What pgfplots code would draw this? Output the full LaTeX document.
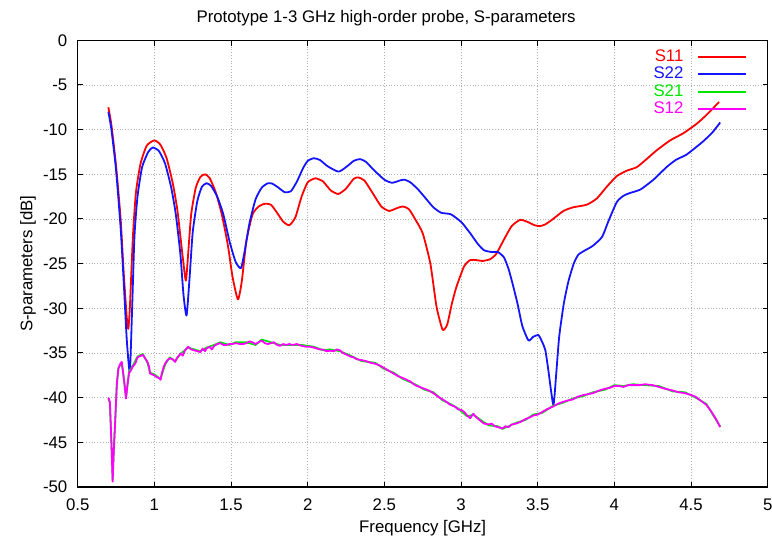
\documentclass[border=0pt]{standalone}
\usepackage{fontspec}
\setmainfont{Liberation Sans}
\usepackage{pgfplots}
\pgfplotsset{compat=1.18}
\definecolor{gpblue}{RGB}{20,20,255}
\definecolor{gpred}{RGB}{255,0,0}
\definecolor{gpgreen}{RGB}{0,230,0}
\definecolor{gpmag}{RGB}{255,0,255}
\newcommand{\fs}{\fontsize{8.4}{10}\selectfont}
\begin{document}
\begin{tikzpicture}
\fs
\begin{axis}[
  name=ax,
  scale only axis,
  width=345pt, height=223.35pt,
  xmin=0.5, xmax=5, ymin=-50, ymax=0,
  xtick={0.5,1,...,5}, ytick={-50,-45,...,0},
  /pgf/number format/assume math mode=true,
  tick label style={font=\fs},
  xticklabel style={yshift=-2.8pt},
  yticklabel style={xshift=-2.2pt},
  major tick length=2.6pt,
  tick style={black, line width=0.5pt},
  axis line style={line width=0.6pt},
  grid=major,
  major grid style={densely dotted, gray!60, line width=0.4pt},
  title={Prototype 1-3 GHz high-order probe, S-parameters},
  title style={at={(rel axis cs:0.447,1)}, anchor=center, yshift=5pt, font=\fs},
  xlabel={Frequency [GHz]},
  xlabel style={at={(rel axis cs:0.5,0)}, anchor=center, yshift=-20.5pt, font=\fs},
  ylabel={S-parameters [dB]},
  ylabel style={at={(axis description cs:-0.072,0.5)}, anchor=center, font=\fs},
  legend plot pos=right,
  legend cell align=right,
  legend image code/.code={\path (0pt,0pt); \draw[#1, line width=1pt] (5pt,0pt) -- (29pt,0pt);},
  legend style={draw=none, fill=none, at={(rel axis cs:1,1)}, anchor=north east, xshift=-9pt, yshift=-1.4pt,
     font=\fs, row sep=-2.4pt, inner sep=1pt},
  every axis plot/.append style={line width=0.9pt, line join=round},
]
\addplot[gpred, no marks, smooth, tension=0.35] coordinates {
(0.70,-7.5) (0.72,-9.5) (0.75,-14) (0.78,-20) (0.80,-26) (0.82,-31) (0.83,-32.3) (0.84,-30)
(0.86,-22) (0.88,-17) (0.91,-13.8) (0.95,-11.8) (1.00,-11.2) (1.04,-11.7) (1.08,-13.2)
(1.12,-16) (1.15,-19) (1.18,-23.5) (1.205,-26.9) (1.22,-24) (1.24,-19.5) (1.27,-16.5)
(1.30,-15.3) (1.33,-15.0) (1.36,-15.4) (1.40,-17) (1.44,-19.5) (1.48,-23) (1.51,-26.5)
(1.545,-29.0) (1.57,-27) (1.60,-22.5) (1.64,-19.5) (1.68,-18.6) (1.72,-18.3) (1.76,-18.4)
(1.80,-19.3) (1.84,-20.3) (1.88,-20.7) (1.92,-19.8) (1.96,-17.5) (2.00,-15.9) (2.05,-15.45)
(2.10,-15.8) (2.15,-16.8) (2.20,-17.2) (2.25,-16.6) (2.30,-15.5) (2.33,-15.35) (2.37,-15.7)
(2.42,-17) (2.48,-18.6) (2.53,-19.1) (2.58,-18.8) (2.62,-18.6) (2.66,-18.9) (2.70,-20)
(2.75,-21.6) (2.80,-25) (2.84,-29.8) (2.88,-32.4) (2.91,-31.8) (2.94,-29.5) (2.97,-27.6)
(3.02,-25.3) (3.06,-24.6) (3.10,-24.6) (3.14,-24.7) (3.19,-24.5) (3.23,-23.9) (3.28,-22.3)
(3.33,-20.8) (3.385,-20.1) (3.43,-20.3) (3.48,-20.7) (3.515,-20.8) (3.55,-20.6) (3.60,-20.0)
(3.668,-19.1) (3.73,-18.7) (3.82,-18.4) (3.886,-17.7) (3.95,-16.4) (4.016,-15.2) (4.08,-14.6)
(4.146,-14.2) (4.21,-13.3) (4.277,-12.3) (4.364,-11.2) (4.45,-10.4) (4.54,-9.3) (4.61,-8.2)
(4.683,-6.9)
};
\addlegendentry{\textcolor{gpred}{S11}}
\addplot[gpblue, no marks, smooth, tension=0.35] coordinates {
(0.70,-8.0) (0.72,-10) (0.75,-14.5) (0.78,-21) (0.80,-27) (0.82,-33.5) (0.84,-37.1)
(0.855,-30) (0.87,-22) (0.89,-17.5) (0.92,-14.2) (0.96,-12.5) (0.99,-12.0) (1.03,-12.4)
(1.07,-13.8) (1.11,-16.5) (1.14,-19.5) (1.17,-24) (1.19,-28.5) (1.21,-30.8) (1.23,-26.5)
(1.25,-21.5) (1.28,-18) (1.31,-16.4) (1.34,-16.0) (1.37,-16.3) (1.41,-17.5) (1.45,-19.5)
(1.49,-22.5) (1.53,-24.8) (1.565,-25.5) (1.59,-23.5) (1.62,-20.5) (1.66,-17.8) (1.70,-16.5)
(1.74,-16.0) (1.77,-16.05) (1.81,-16.5) (1.85,-17.0) (1.89,-16.9) (1.93,-15.8) (1.97,-14.3)
(2.00,-13.5) (2.04,-13.2) (2.08,-13.4) (2.13,-14.1) (2.20,-14.7) (2.25,-14.2) (2.30,-13.5)
(2.34,-13.3) (2.38,-13.6) (2.43,-14.5) (2.50,-15.6) (2.55,-15.95) (2.60,-15.7) (2.63,-15.6)
(2.67,-15.9) (2.72,-16.7) (2.77,-17.7) (2.82,-18.7) (2.87,-19.3) (2.93,-19.45) (2.97,-19.9)
(3.01,-20.5) (3.06,-21.6) (3.11,-22.8) (3.15,-23.5) (3.20,-23.7) (3.24,-23.7) (3.28,-24.3)
(3.31,-25.6) (3.34,-27.5) (3.37,-29.6) (3.40,-32.0) (3.44,-33.6) (3.47,-33.2) (3.505,-33.0)
(3.53,-33.8) (3.55,-34.7) (3.57,-37.0) (3.602,-40.8) (3.62,-37.5) (3.64,-33.2) (3.67,-29.5)
(3.70,-27.0) (3.735,-25.0) (3.765,-24.0) (3.81,-23.5) (3.86,-23.0) (3.92,-22.0) (3.96,-20.3)
(4.016,-18.1) (4.06,-17.4) (4.10,-17.1) (4.17,-16.7) (4.255,-15.6) (4.34,-14.2) (4.40,-13.4)
(4.47,-12.8) (4.53,-12.0) (4.58,-11.3) (4.64,-10.3) (4.69,-9.2)
};
\addlegendentry{\textcolor{gpblue}{S22}}
\addplot[gpgreen, no marks] coordinates {
(0.70,-40.1) (0.71,-40.6) (0.72,-45.2) (0.728,-49.2) (0.735,-46.1) (0.745,-42.4) (0.755,-38.6)
(0.765,-36.7) (0.787,-36.1) (0.805,-38.4) (0.815,-40.0) (0.835,-37.1) (0.86,-36.4) (0.89,-35.4)
(0.925,-35.1) (0.955,-36.1) (0.972,-37.2) (1.00,-37.4) (1.04,-37.9) (1.07,-36.3) (1.10,-35.5)
(1.135,-35.9) (1.17,-35.1) (1.22,-34.4) (1.26,-34.6) (1.30,-34.8) (1.34,-34.4) (1.39,-34.1)
(1.43,-33.8) (1.49,-34.1) (1.53,-33.8) (1.60,-33.8) (1.66,-34.1) (1.70,-33.5) (1.76,-33.8)
(1.82,-34.1) (1.88,-34.1) (1.96,-34.1) (2.04,-34.3) (2.10,-34.7) (2.146,-34.6) (2.21,-34.8)
(2.28,-35.3) (2.35,-35.9) (2.44,-36.1) (2.50,-36.8) (2.56,-37.2) (2.62,-37.9) (2.70,-38.5)
(2.76,-39.1) (2.82,-39.4) (2.88,-40.3) (2.93,-40.7) (2.98,-41.2) (3.04,-42.1) (3.08,-41.9)
(3.12,-42.4) (3.18,-43.1) (3.24,-43.2) (3.27,-43.5) (3.31,-43.2) (3.36,-42.8) (3.42,-42.5)
(3.47,-41.9) (3.53,-41.7) (3.60,-40.9) (3.66,-40.6) (3.73,-40.1) (3.80,-39.8) (3.86,-39.4)
(3.94,-39.1) (4.00,-38.6) (4.06,-38.7) (4.12,-38.5) (4.20,-38.6) (4.29,-38.7) (4.38,-39.3)
(4.46,-39.4) (4.53,-40.0) (4.60,-40.7) (4.66,-42.4) (4.69,-43.2)
};
\addlegendentry{\textcolor{gpgreen}{S21}}
\addplot[gpmag, no marks] coordinates {
(0.700,-40.0) (0.710,-40.5) (0.720,-45) (0.728,-49.4) (0.735,-46) (0.745,-42.5) (0.755,-38.5)
(0.765,-36.8) (0.775,-36.3) (0.787,-36.0) (0.795,-37) (0.805,-38.5) (0.815,-40.1) (0.825,-38.5)
(0.835,-37.2) (0.845,-37.0) (0.86,-36.5) (0.875,-36.2) (0.89,-35.5) (0.90,-35.4) (0.915,-35.3)
(0.925,-35.2) (0.94,-35.6) (0.955,-36.0) (0.965,-36.5) (0.972,-37.3) (0.985,-37.4) (1.00,-37.5)
(1.015,-37.7) (1.03,-37.8) (1.04,-38.0) (1.05,-37.2) (1.06,-36.6) (1.07,-36.2) (1.085,-35.8)
(1.10,-35.6) (1.12,-35.7) (1.135,-36.0) (1.15,-35.5) (1.165,-35.2) (1.17,-35.05) (1.185,-35.3)
(1.20,-34.7) (1.22,-34.3) (1.24,-34.6) (1.26,-34.7) (1.28,-34.8) (1.30,-34.9) (1.315,-34.5)
(1.33,-34.8) (1.34,-34.5) (1.36,-34.3) (1.375,-34.6) (1.39,-34.2) (1.41,-34.0) (1.43,-33.9)
(1.45,-34.1) (1.47,-34.1) (1.49,-34.0) (1.51,-34.0) (1.53,-33.9) (1.56,-34.0) (1.58,-34.0)
(1.60,-33.9) (1.62,-33.7) (1.64,-33.8) (1.66,-34.0) (1.68,-33.8) (1.70,-33.6) (1.72,-33.9)
(1.74,-34.0) (1.76,-33.9) (1.78,-33.8) (1.80,-34.1) (1.82,-34.2) (1.84,-34.0) (1.86,-34.1)
(1.88,-34.0) (1.90,-34.1) (1.93,-34.0) (1.96,-34.2) (1.99,-34.3) (2.015,-34.3) (2.04,-34.4)
(2.06,-34.5) (2.08,-34.6) (2.10,-34.6) (2.12,-34.8) (2.146,-34.75) (2.17,-34.8) (2.19,-34.6)
(2.21,-34.7) (2.23,-35.0) (2.255,-35.2) (2.28,-35.4) (2.30,-35.5) (2.32,-35.7) (2.35,-35.8)
(2.38,-35.9) (2.41,-36.1) (2.44,-36.2) (2.47,-36.4) (2.50,-36.7) (2.53,-37.0) (2.56,-37.3)
(2.59,-37.6) (2.62,-37.8) (2.646,-38.0) (2.67,-38.2) (2.70,-38.6) (2.73,-38.8) (2.76,-39.0)
(2.79,-39.2) (2.82,-39.5) (2.85,-39.9) (2.88,-40.2) (2.907,-40.5) (2.93,-40.8) (2.96,-41.0)
(2.98,-41.3) (3.005,-41.4) (3.02,-41.6) (3.04,-42.0) (3.06,-42.3) (3.08,-41.8) (3.10,-42.2)
(3.12,-42.5) (3.15,-42.9) (3.18,-43.0) (3.20,-42.9) (3.22,-43.2) (3.24,-43.3) (3.27,-43.45)
(3.29,-43.2) (3.31,-43.3) (3.33,-43.0) (3.36,-42.9) (3.39,-42.7) (3.42,-42.4) (3.45,-42.2)
(3.47,-42.0) (3.50,-41.9) (3.53,-41.6) (3.56,-41.3) (3.60,-41.0) (3.63,-40.7) (3.66,-40.5)
(3.70,-40.3) (3.73,-40.2) (3.76,-39.9) (3.80,-39.7) (3.83,-39.6) (3.86,-39.5) (3.90,-39.2)
(3.94,-39.0) (3.97,-38.9) (4.00,-38.7) (4.03,-38.7) (4.06,-38.8) (4.09,-38.6) (4.12,-38.6)
(4.16,-38.6) (4.20,-38.5) (4.25,-38.6) (4.29,-38.8) (4.33,-39.0) (4.38,-39.2) (4.42,-39.4)
(4.46,-39.5) (4.50,-39.7) (4.53,-39.9) (4.56,-40.3) (4.60,-40.8) (4.63,-41.5) (4.66,-42.3)
(4.69,-43.3)
};
\addlegendentry{\textcolor{gpmag}{S12}}
\end{axis}
\pgfresetboundingbox
\path ([shift={(-38.85pt,-26.5pt)}]ax.south west) rectangle ++(386pt,270pt);
\end{tikzpicture}
\end{document}
